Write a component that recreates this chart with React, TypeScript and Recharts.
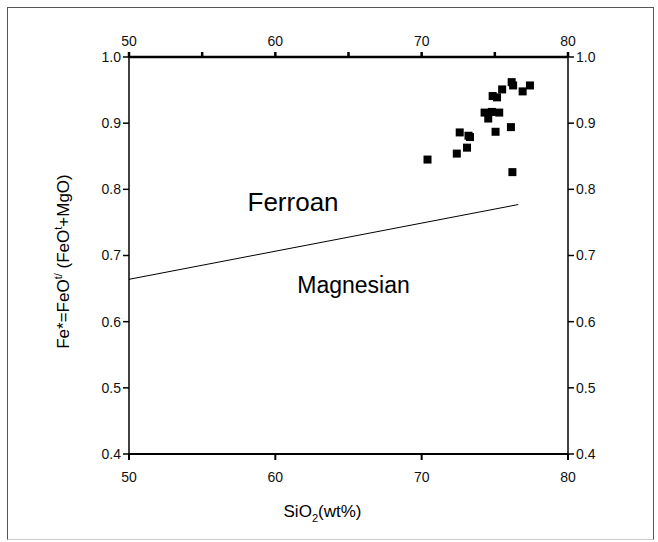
import {
  ReferenceDot,
  ReferenceLine,
  Scatter,
  ScatterChart,
  XAxis,
  YAxis,
} from "recharts";

// SiO2 (wt%) and Fe*, one entry per sample
const siO2 = [70.4, 72.4, 72.6, 73.1, 73.2, 73.3, 74.3, 74.55, 74.8, 75.3, 75.05, 74.85, 75.15, 75.5, 76.1, 76.15, 76.25, 76.9, 77.4, 76.2];
const feNumber = [0.845, 0.854, 0.886, 0.863, 0.881, 0.879, 0.916, 0.907, 0.917, 0.916, 0.887, 0.941, 0.939, 0.951, 0.894, 0.962, 0.957, 0.948, 0.957, 0.826];

// ferroan / magnesian divide
const boundarySiO2 = [50, 76.6];
const boundaryFe = [0.664, 0.777];

const xTicks = [50, 60, 70, 80];
const xTicksTop = [50, 55, 60, 65, 70, 75, 80];
const yTicks = [0.4, 0.5, 0.6, 0.7, 0.8, 0.9, 1.0];

const FONT = '"Liberation Sans", Arial, Helvetica, sans-serif';

const samples = siO2.map((x, i) => ({ x, y: feNumber[i] }));

const tickStyle = { fontSize: 14, fill: "#111", fontFamily: FONT };

type VB = { x: number; y: number; width: number; height: number };

function SquareMark(props: { cx?: number; cy?: number }) {
  const { cx = 0, cy = 0 } = props;
  return <rect x={cx - 4} y={cy - 4} width={8} height={8} fill="#000" />;
}

function regionLabel(text: string, size: number) {
  return ({ viewBox }: { viewBox?: VB }) => {
    if (!viewBox) return null;
    return (
      <text x={viewBox.x} y={viewBox.y} fontSize={size} fontFamily={FONT} fill="#000">
        {text}
      </text>
    );
  };
}

function YTitle({ viewBox }: { viewBox?: VB }) {
  if (!viewBox) return null;
  const cx = viewBox.x + 45;
  const cy = viewBox.y + viewBox.height / 2 + 6;
  return (
    <text
      x={cx}
      y={cy}
      transform={`rotate(-90, ${cx}, ${cy})`}
      textAnchor="middle"
      dominantBaseline="middle"
      fontSize={17}
      fontFamily={FONT}
      fill="#000"
    >
      Fe*=FeO
      <tspan dy={-6} fontSize={11}>t/</tspan>
      <tspan dy={6}> (FeO</tspan>
      <tspan dy={-6} fontSize={11}>t</tspan>
      <tspan dy={6}>+MgO)</tspan>
    </text>
  );
}

function XTitle({ viewBox }: { viewBox?: VB }) {
  if (!viewBox) return null;
  const cx = viewBox.x + viewBox.width / 2 - 26;
  return (
    <text x={cx} y={517} textAnchor="middle" fontSize={17} fontFamily={FONT} fill="#000">
      SiO
      <tspan dy={5} fontSize={11}>2</tspan>
      <tspan dy={-5}>(wt%)</tspan>
    </text>
  );
}

export default function App() {
  return (
    <div
      style={{
        position: "absolute",
        left: 0,
        top: 0,
        width: 658,
        height: 542,
        background: "#fff",
        fontFamily: FONT,
      }}
    >
      <div
        style={{
          position: "absolute",
          left: 7,
          top: 7,
          width: 647,
          height: 533,
          border: "1.5px solid #555",
          borderBottomColor: "#ccc",
          boxSizing: "border-box",
        }}
      />
      <ScatterChart
        width={658}
        height={542}
        margin={{ top: 27, right: 40, bottom: 58, left: 20 }}
        style={{ position: "absolute", left: 0, top: 0 }}
      >
        <XAxis
          xAxisId="bottom"
          type="number"
          dataKey="x"
          domain={[50, 80]}
          ticks={xTicks}
          allowDataOverflow
          height={30}
          stroke="#000"
          strokeWidth={2}
          tickSize={6}
          tickMargin={12}
          tick={tickStyle}
          label={<XTitle />}
        />
        <XAxis
          xAxisId="top"
          orientation="top"
          type="number"
          dataKey="x"
          domain={[50, 80]}
          ticks={xTicksTop}
          tickFormatter={(v: number) => (v % 10 === 0 ? String(v) : "")}
          allowDataOverflow
          height={30}
          stroke="#000"
          strokeWidth={2.5}
          tickSize={5}
          tickMargin={6}
          tick={tickStyle}
        />
        <YAxis
          yAxisId="left"
          type="number"
          dataKey="y"
          domain={[0.4, 1.0]}
          ticks={yTicks}
          tickFormatter={(v: number) => v.toFixed(1)}
          allowDataOverflow
          width={109}
          stroke="#000"
          strokeWidth={1.5}
          tickSize={6}
          tickMargin={2}
          tick={tickStyle}
          label={<YTitle />}
        />
        <YAxis
          yAxisId="right"
          orientation="right"
          type="number"
          dataKey="y"
          domain={[0.4, 1.0]}
          ticks={yTicks}
          tickFormatter={(v: number) => v.toFixed(1)}
          allowDataOverflow
          width={50}
          stroke="#000"
          strokeWidth={1.5}
          tickSize={6}
          tickMargin={2}
          tick={tickStyle}
        />
        <ReferenceLine
          xAxisId="bottom"
          yAxisId="left"
          segment={[
            { x: boundarySiO2[0], y: boundaryFe[0] },
            { x: boundarySiO2[1], y: boundaryFe[1] },
          ]}
          stroke="#000"
          strokeWidth={1}
          ifOverflow="visible"
        />
        <ReferenceDot
          xAxisId="bottom"
          yAxisId="left"
          x={58.1}
          y={0.767}
          r={0}
          stroke="none"
          label={regionLabel("Ferroan", 26)}
        />
        <ReferenceDot
          xAxisId="bottom"
          yAxisId="left"
          x={61.5}
          y={0.643}
          r={0}
          stroke="none"
          label={regionLabel("Magnesian", 23)}
        />
        <Scatter
          xAxisId="bottom"
          yAxisId="left"
          data={samples}
          shape={<SquareMark />}
          isAnimationActive={false}
        />
      </ScatterChart>
    </div>
  );
}
